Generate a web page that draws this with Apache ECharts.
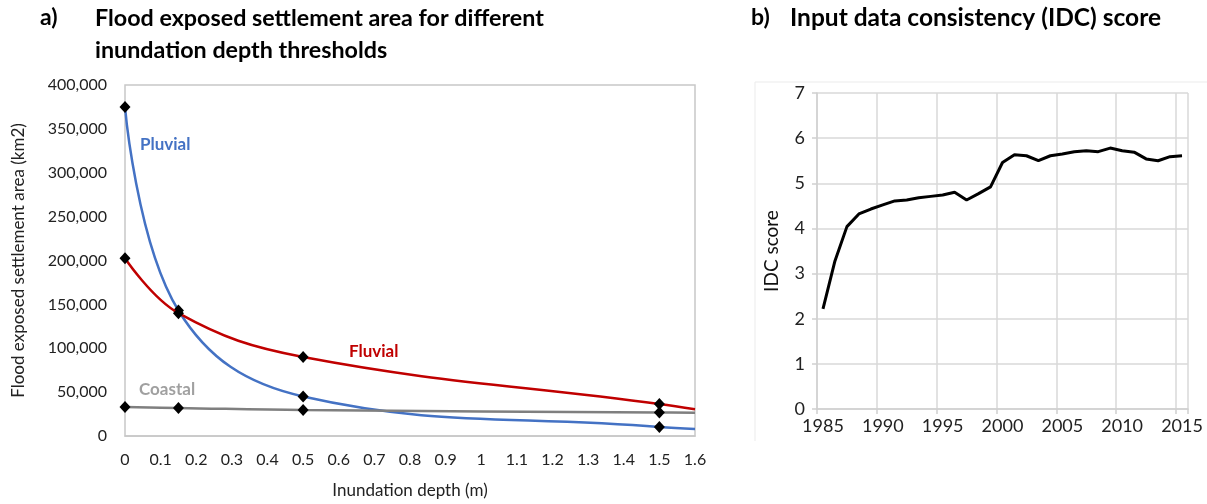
<!DOCTYPE html>
<html>
    <head>
        <meta charset="UTF-8">
        <title>Flood exposure and IDC score</title>
        <script src="https://cdn.jsdelivr.net/npm/echarts@6/dist/echarts.min.js"></script>
        <style>
            body { margin: 0; background: #fff; }
            #chart { width: 1207px; height: 504px; }
        </style>
    </head>
    <body>
        <div id="chart"></div>
        <script>
            // panel a) exposed settlement area (km2) by inundation depth (m)
            const depth = [0, 0.15, 0.5, 1.5, 1.6];
            const pluvial = [375000, 143000, 45000, 10200, 7900];
            const fluvial = [202500, 140000, 90000, 36500, 30500];
            const coastal = [33000, 32000, 29500, 26800, 26500];
            // last depth point only continues the curve to the edge, no marker
            const markerShown = [true, true, true, true, false];

            // panel b) IDC score per year
            const years = [];
            for (let y = 1985; y <= 2015; y++) years.push(String(y));
            const idc = [2.22, 3.28, 4.04, 4.32, 4.43, 4.52, 4.61, 4.63, 4.68, 4.71,
                         4.74, 4.80, 4.63, 4.77, 4.92, 5.46, 5.63, 5.61, 5.50, 5.61,
                         5.65, 5.70, 5.72, 5.70, 5.78, 5.72, 5.69, 5.54, 5.50, 5.59,
                         5.61];

            const FONT = 'Lato';
            const titleStyle = { fontFamily: FONT, fontSize: 23, fontWeight: 'bold', color: '#000', lineHeight: 32 };

            function pairs(values) {
                return values.map((v, i) => ({
                    value: [depth[i], v],
                    symbol: markerShown[i] ? 'diamond' : 'none'
                }));
            }

            function floodSeries(name, values, color, z) {
                return {
                    name: name,
                    type: 'line',
                    xAxisIndex: 0,
                    yAxisIndex: 0,
                    smooth: 0.4,
                    data: pairs(values),
                    symbolSize: [11, 12],
                    showAllSymbol: true,
                    itemStyle: { color: '#000' },
                    lineStyle: { color: color, width: 2.5 },
                    z: z
                };
            }

            const chart = echarts.init(document.getElementById('chart'));
            chart.setOption({
                animation: false,
                textStyle: { fontFamily: FONT },
                title: [
                    { text: 'a)', left: 40, top: 2, padding: 0, textStyle: titleStyle },
                    { text: 'Flood exposed settlement area for different\ninundation depth thresholds',
                      left: 95, top: 2, padding: 0, textStyle: Object.assign({}, titleStyle, { fontSize: 23.3 }) },
                    { text: 'b)', left: 751, top: 2, padding: 0, textStyle: titleStyle },
                    { text: 'Input data consistency (IDC) score', left: 790, top: 2, padding: 0,
                      textStyle: Object.assign({}, titleStyle, { fontSize: 24.5 }) }
                ],
                grid: [
                    { left: 125, right: 512, top: 85, bottom: 66, show: true,
                      borderColor: '#C8C8C8', borderWidth: 1.5, backgroundColor: '#fff' },
                    { left: 817, right: 19, top: 93, bottom: 95 }
                ],
                xAxis: [
                    {
                        gridIndex: 0, type: 'value', min: 0, max: 1.6, interval: 0.1,
                        name: 'Inundation depth (m)', nameLocation: 'middle', nameGap: 46,
                        nameTextStyle: { fontFamily: FONT, fontSize: 17, color: '#222' },
                        axisLine: { show: true, lineStyle: { color: '#C8C8C8', width: 1.5 } },
                        axisTick: { show: false },
                        splitLine: { show: false },
                        axisLabel: { margin: 16, fontSize: 16, color: '#222', fontFamily: FONT,
                                     formatter: v => String(Math.round(v * 10) / 10) }
                    },
                    {
                        gridIndex: 1, type: 'category', data: years, boundaryGap: true,
                        axisLine: { show: true, lineStyle: { color: '#D0D0D0', width: 1.5 } },
                        axisTick: { show: true, interval: 4, length: 5, lineStyle: { color: '#D0D0D0', width: 1.5 } },
                        splitLine: { show: true, interval: 4, lineStyle: { color: '#D9D9D9', width: 1.5 } },
                        axisLabel: { interval: 4, margin: 8, fontSize: 18, color: '#222', fontFamily: FONT }
                    }
                ],
                yAxis: [
                    {
                        gridIndex: 0, type: 'value', min: 0, max: 400000, interval: 50000,
                        name: 'Flood exposed settlement area (km2)', nameLocation: 'middle', nameGap: 98,
                        nameTextStyle: { fontFamily: FONT, fontSize: 17, color: '#222' },
                        axisLine: { show: false },
                        axisTick: { show: false },
                        splitLine: { show: false },
                        axisLabel: { margin: 18, fontSize: 16, color: '#222', fontFamily: FONT,
                                     formatter: v => v.toLocaleString('en-US') }
                    },
                    {
                        gridIndex: 1, type: 'value', min: 0, max: 7, interval: 1,
                        name: 'IDC score', nameLocation: 'middle', nameGap: 36,
                        nameTextStyle: { fontFamily: FONT, fontSize: 19, color: '#111' },
                        axisLine: { show: true, lineStyle: { color: '#D0D0D0', width: 1.5 } },
                        axisTick: { show: true, length: 5, lineStyle: { color: '#D0D0D0', width: 1.5 } },
                        splitLine: { show: true, lineStyle: { color: '#D9D9D9', width: 1.5 } },
                        axisLabel: { margin: 12, fontSize: 18, color: '#222', fontFamily: FONT }
                    }
                ],
                series: [
                    floodSeries('Pluvial', pluvial, '#4472C4', 3),
                    floodSeries('Fluvial', fluvial, '#C00000', 4),
                    floodSeries('Coastal', coastal, '#7F7F7F', 5),
                    {
                        name: 'IDC score',
                        type: 'line',
                        xAxisIndex: 1,
                        yAxisIndex: 1,
                        data: idc,
                        showSymbol: false,
                        lineStyle: { color: '#000', width: 3 }
                    }
                ],
                graphic: [
                    { type: 'text', left: 140, top: 136,
                      style: { text: 'Pluvial', fill: '#4472C4', font: 'bold 17px ' + FONT } },
                    { type: 'text', left: 349, top: 343,
                      style: { text: 'Fluvial', fill: '#C00000', font: 'bold 17px ' + FONT } },
                    { type: 'text', left: 139, top: 381,
                      style: { text: 'Coastal', fill: '#A0A0A0', font: 'bold 17px ' + FONT } },
                    { type: 'polyline', z: -1,
                      shape: { points: [[755, 441], [755, 82], [1207, 82]] },
                      style: { stroke: '#EBEBEB', lineWidth: 1, fill: null } }
                ]
            });
        </script>
    </body>
</html>
